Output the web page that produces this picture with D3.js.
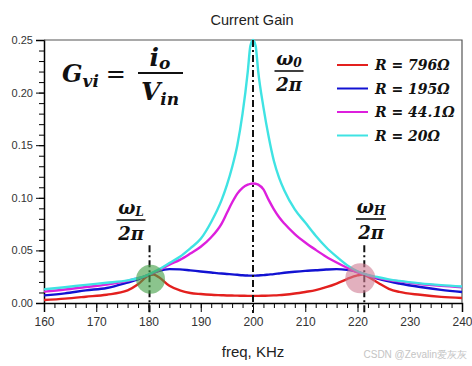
<!DOCTYPE html>
<html>
<head>
<meta charset="utf-8">
<script src="https://cdn.jsdelivr.net/npm/d3@7"></script>
<style>
  body { margin: 0; background: #fff; }
  svg { display: block; font-family: "Liberation Sans", Arial, sans-serif; }
  .math { font-family: "DejaVu Serif", serif; font-style: italic; font-weight: bold; fill: #111; }
</style>
</head>
<body>
<div id="chart"></div>
<script>
const width = 472;
const height = 366;
const margin = { left: 44, top: 40, right: 10, bottom: 63 };
const chartWidth = width - margin.left - margin.right;
const chartHeight = height - margin.top - margin.bottom;

// frequency in kHz
const freq = [160, 164, 168, 172, 176, 178, 180, 181, 182, 184, 186, 188, 190, 192, 194, 195, 196, 197, 198, 199, 199.5, 200,
  200.5, 201, 202, 203, 204, 205, 206, 208, 210, 212, 214, 216, 218, 220, 221, 222, 224, 226, 228, 232, 236, 240];

const gain796 = [0.0028, 0.0042, 0.006, 0.0079, 0.012, 0.0178, 0.026, 0.027, 0.0245, 0.0163, 0.012, 0.0095, 0.0085, 0.0078, 0.0074, 0.0072, 0.0071, 0.007, 0.0069, 0.0068, 0.0068, 0.0068,
  0.0068, 0.0068, 0.0069, 0.007, 0.0072, 0.0075, 0.0079, 0.009, 0.0105, 0.0122, 0.015, 0.0185, 0.0228, 0.0262, 0.027, 0.025, 0.019, 0.0135, 0.0105, 0.0078, 0.0058, 0.0047];
const gain195 = [0.0072, 0.0092, 0.012, 0.0143, 0.0195, 0.0225, 0.0268, 0.0288, 0.0305, 0.0322, 0.032, 0.031, 0.03, 0.029, 0.028, 0.0276, 0.0272, 0.0268, 0.0264, 0.0261, 0.026, 0.026,
  0.026, 0.0262, 0.0265, 0.027, 0.0275, 0.0281, 0.0287, 0.0297, 0.0305, 0.0311, 0.0318, 0.0322, 0.0315, 0.0295, 0.028, 0.0262, 0.023, 0.0205, 0.0185, 0.0152, 0.0125, 0.0105];
const gain44 = [0.0108, 0.0128, 0.0152, 0.0175, 0.021, 0.0235, 0.0265, 0.0287, 0.031, 0.0365, 0.041, 0.047, 0.0535, 0.0625, 0.0755, 0.0855, 0.0955, 0.104, 0.1095, 0.1125, 0.1133, 0.1136,
  0.1134, 0.1125, 0.108, 0.098, 0.089, 0.0815, 0.0755, 0.0655, 0.0575, 0.0505, 0.044, 0.0385, 0.0335, 0.0292, 0.0276, 0.0261, 0.0236, 0.0218, 0.0205, 0.018, 0.0163, 0.015];
const gain20 = [0.013, 0.015, 0.0172, 0.0192, 0.0215, 0.0235, 0.027, 0.0295, 0.032, 0.038, 0.044, 0.052, 0.061, 0.077, 0.098, 0.112, 0.129, 0.15, 0.18, 0.22, 0.2446, 0.25,
  0.2446, 0.22, 0.186, 0.158, 0.135, 0.119, 0.107, 0.089, 0.0765, 0.064, 0.053, 0.044, 0.036, 0.0302, 0.0282, 0.0266, 0.0245, 0.0225, 0.021, 0.0187, 0.017, 0.0157];

const seriesNames = ["R = 796Ω", "R = 195Ω", "R = 44.1Ω", "R = 20Ω"];
const seriesValues = [gain796, gain195, gain44, gain20];
const colors = ["#e3201e", "#1212d2", "#dd1fdd", "#3fe3e3"];

const xTicks = [160, 170, 180, 190, 200, 210, 220, 230, 240];
const yTicks = [0, 0.05, 0.1, 0.15, 0.2, 0.25];

const f0 = 200;
const fL = 180.2;
const fH = 221.3;

let svg;
let xAxisScale;
let yAxisScale;

function createChart() {
  createChartSvg();
  createXaxisScale();
  createYaxisScale();
  createFrame();
  createLines();
  createMarkers();
  createLegends();
  createLabels();
}

function createChartSvg() {
  const root = d3.select("#chart").append("svg")
    .attr("width", width)
    .attr("height", height);

  root.append("text")
    .attr("x", 252)
    .attr("y", 25)
    .attr("text-anchor", "middle")
    .attr("font-size", 14.5)
    .attr("fill", "#222")
    .text("Current Gain");

  root.append("text")
    .attr("x", 253)
    .attr("y", 357)
    .attr("text-anchor", "middle")
    .attr("font-size", 15)
    .attr("fill", "#222")
    .text("freq, KHz");

  root.append("text")
    .attr("x", 467)
    .attr("y", 358)
    .attr("text-anchor", "end")
    .attr("font-size", 10)
    .attr("fill", "#c4c4c4")
    .text("CSDN @Zevalin爱灰灰");

  svg = root.append("g")
    .attr("transform", "translate(" + margin.left + "," + margin.top + ")");
}

function createXaxisScale() {
  xAxisScale = d3.scaleLinear().domain([160, 240]).range([0, chartWidth]);

  svg.append("g")
    .attr("transform", "translate(0," + chartHeight + ")")
    .call(d3.axisBottom(xAxisScale).tickValues(d3.range(160, 241, 2)).tickSize(5).tickFormat(""))
    .call((g) => g.select(".domain").remove());

  const xAxis = svg.append("g")
    .attr("transform", "translate(0," + chartHeight + ")")
    .call(d3.axisBottom(xAxisScale).tickValues(xTicks).tickSize(9).tickPadding(5).tickFormat(d3.format("d")));
  xAxis.select(".domain").attr("stroke-width", 1.5);
  xAxis.selectAll("text").attr("font-size", 12).attr("fill", "#333");
}

function createYaxisScale() {
  yAxisScale = d3.scaleLinear().domain([0, 0.25]).range([chartHeight, 0]);

  svg.append("g")
    .call(d3.axisLeft(yAxisScale).tickValues(d3.range(0, 0.2501, 0.01)).tickSize(5).tickFormat(""))
    .call((g) => g.select(".domain").remove());

  const yAxis = svg.append("g")
    .call(d3.axisLeft(yAxisScale).tickValues(yTicks).tickSize(8).tickPadding(3).tickFormat(d3.format(".2f")));
  yAxis.select(".domain").attr("stroke-width", 1.5);
  yAxis.selectAll("text").attr("font-size", 11).attr("fill", "#333");
}

function createFrame() {
  svg.append("path")
    .attr("d", "M0,0H" + chartWidth + "V" + chartHeight)
    .attr("fill", "none")
    .attr("stroke", "#555")
    .attr("stroke-width", 1.2);
}

function createLines() {
  const line = d3.line()
    .x((d, i) => xAxisScale(freq[i]))
    .y((d) => yAxisScale(d))
    .curve(d3.curveMonotoneX);

  svg.append("g")
    .selectAll("path")
    .data(seriesValues)
    .enter()
    .append("path")
    .attr("fill", "none")
    .attr("stroke", (d, i) => colors[i])
    .attr("stroke-width", 2.4)
    .attr("d", line);
}

function createMarkers() {
  const dash = "7,3,2,3";
  svg.append("line")
    .attr("x1", xAxisScale(f0)).attr("x2", xAxisScale(f0))
    .attr("y1", 0).attr("y2", chartHeight + 10)
    .attr("stroke", "#111").attr("stroke-width", 2)
    .attr("stroke-dasharray", dash);

  [fL, fH].forEach((f) => {
    svg.append("line")
      .attr("x1", xAxisScale(f)).attr("x2", xAxisScale(f))
      .attr("y1", yAxisScale(0.055)).attr("y2", chartHeight + 10)
      .attr("stroke", "#111").attr("stroke-width", 2)
      .attr("stroke-dasharray", dash);
  });

  svg.append("circle")
    .attr("cx", xAxisScale(fL) + 1)
    .attr("cy", yAxisScale(0.0225))
    .attr("r", 14.5)
    .attr("fill", "#43a047")
    .attr("opacity", 0.62);

  svg.append("circle")
    .attr("cx", xAxisScale(fH) - 4)
    .attr("cy", yAxisScale(0.0235))
    .attr("r", 15)
    .attr("fill", "#cf7b92")
    .attr("opacity", 0.6);
}

function createLegends() {
  const legends = svg.selectAll(".legend")
    .data(seriesNames)
    .enter()
    .append("g")
    .classed("legend", true)
    .attr("transform", (d, i) => "translate(293," + (25 + i * 23.5) + ")");

  legends.append("line")
    .attr("x1", 0).attr("x2", 31)
    .attr("stroke", (d, i) => colors[i])
    .attr("stroke-width", 2);

  legends.append("text")
    .classed("math", true)
    .attr("x", 38)
    .attr("y", 5)
    .attr("font-size", 14)
    .text((d) => d);
}

function fraction(x, yBar, top, sub, size, barWidth) {
  const g = svg.append("g").attr("transform", "translate(" + (x - margin.left) + "," + (yBar - margin.top) + ")");
  const t = g.append("text").classed("math", true)
    .attr("text-anchor", "middle").attr("y", -6).attr("font-size", size);
  t.append("tspan").text(top);
  if (sub) t.append("tspan").attr("font-size", size * 0.68).attr("dy", size * 0.12).text(sub);
  g.append("line")
    .attr("x1", -barWidth / 2).attr("x2", barWidth / 2)
    .attr("stroke", "#111").attr("stroke-width", 1.6);
  g.append("text").classed("math", true)
    .attr("text-anchor", "middle").attr("y", size * 1.12).attr("font-size", size)
    .text("2π");
}

function createLabels() {
  // G_vi = i_o / V_in
  const gText = svg.append("text").classed("math", true)
    .attr("x", 62 - margin.left).attr("y", 82 - margin.top).attr("font-size", 24);
  gText.append("tspan").text("G");
  gText.append("tspan").attr("font-size", 17).attr("dy", 5).text("vi");
  gText.append("tspan").attr("dy", -5).attr("dx", 7).attr("font-weight", "normal").attr("font-style", "normal").text("=");

  const num = svg.append("text").classed("math", true)
    .attr("x", 160 - margin.left).attr("y", 66 - margin.top).attr("text-anchor", "middle").attr("font-size", 25);
  num.append("tspan").text("i");
  num.append("tspan").attr("font-size", 17).attr("dy", 3).text("o");

  svg.append("line")
    .attr("x1", 138 - margin.left).attr("x2", 183 - margin.left)
    .attr("y1", 73 - margin.top).attr("y2", 73 - margin.top)
    .attr("stroke", "#111").attr("stroke-width", 2);

  const den = svg.append("text").classed("math", true)
    .attr("x", 160 - margin.left).attr("y", 100 - margin.top).attr("text-anchor", "middle").attr("font-size", 25);
  den.append("tspan").text("V");
  den.append("tspan").attr("font-size", 17).attr("dy", 5).text("in");

  fraction(289, 71, "ω", "0", 18, 29);
  fraction(131, 220, "ω", "L", 18, 29);
  fraction(371, 219, "ω", "H", 18, 30);
}

createChart();
</script>
</body>
</html>
